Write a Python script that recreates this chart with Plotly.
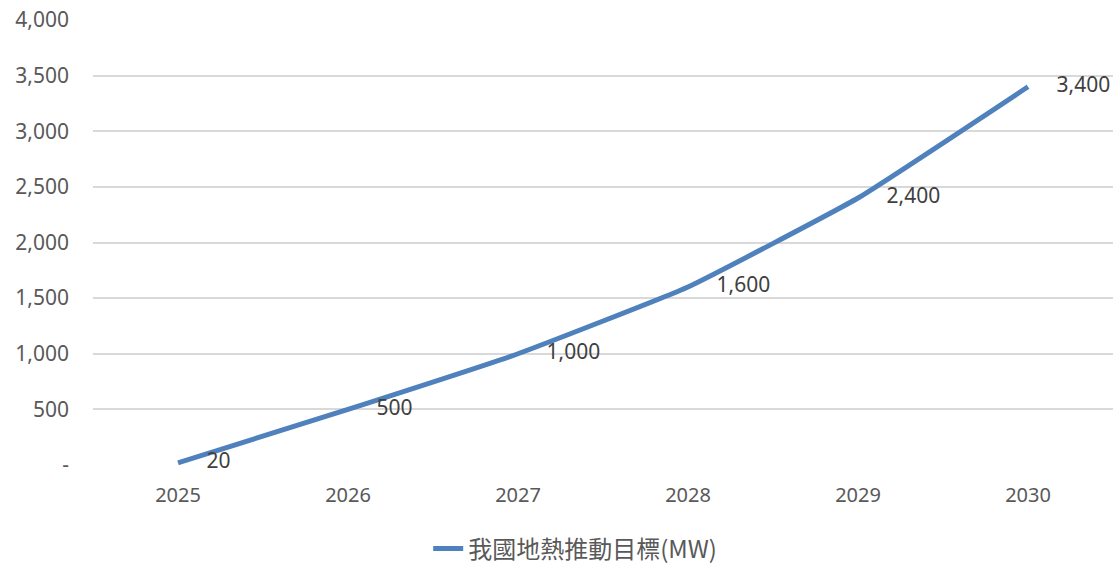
import plotly.graph_objects as go

years = ["2025", "2026", "2027", "2028", "2029", "2030"]
targets = [20, 500, 1000, 1600, 2400, 3400]
target_labels = ["20", "500", "1,000", "1,600", "2,400", "3,400"]
series_name = "我國地熱推動目標(MW)"
y_tick_vals = [0, 500, 1000, 1500, 2000, 2500, 3000, 3500, 4000]
y_tick_text = ["-", "500", "1,000", "1,500", "2,000", "2,500", "3,000", "3,500", "4,000"]

FONT = "Noto Sans, Noto Sans CJK TC, sans-serif"

fig = go.Figure()
fig.add_trace(go.Scatter(
    x=years, y=targets, name=series_name,
    mode="lines+markers+text",
    line=dict(color="#4F81BD", width=5, shape="spline", smoothing=0.35),
    marker=dict(size=44, color="rgba(0,0,0,0)"),
    text=target_labels, textposition="middle right",
    textfont=dict(family=FONT, size=21, color="#404040"),
    cliponaxis=False,
))

fig.update_layout(
    width=1118, height=565,
    margin=dict(l=93, r=5, t=18, b=100),
    paper_bgcolor="white", plot_bgcolor="white",
    font=dict(family=FONT, size=20, color="#595959"),
    showlegend=True,
    legend=dict(orientation="h", xref="container", yref="container",
                x=0.383, xanchor="left", y=1 - 549 / 565, yanchor="middle",
                font=dict(family="Noto Sans CJK TC, Noto Sans, sans-serif", size=24, color="#595959")),
    xaxis=dict(type="category", range=[-0.5, 5.5], showgrid=False, showline=False, zeroline=False,
               tickfont=dict(size=20, color="#595959"), ticks="", ticklabelstandoff=16),
    yaxis=dict(range=[0, 4000], tickvals=y_tick_vals, ticktext=y_tick_text,
               showgrid=True, gridcolor="#D9D9D9", gridwidth=1.5, zeroline=False, showline=False,
               tickfont=dict(size=21, color="#595959"), ticks="", ticklabelstandoff=23),
)

fig.write_html("out.html")
